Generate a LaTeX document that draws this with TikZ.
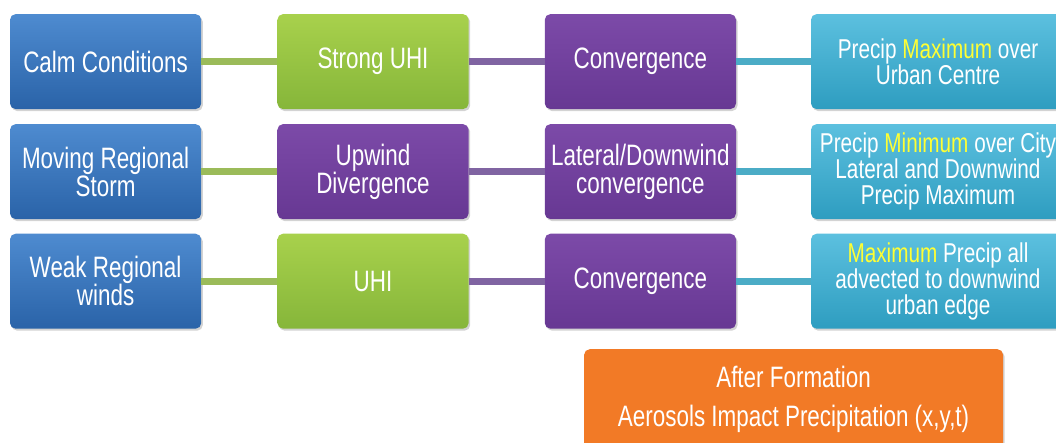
\documentclass[tikz,border=0pt]{standalone}
\usepackage{fontspec}
\setmainfont{Liberation Sans}[FakeStretch=0.76]
\usetikzlibrary{shadows}
\definecolor{bluetop}{HTML}{4E8BD0}
\definecolor{bluebot}{HTML}{2A63A8}
\definecolor{greentop}{HTML}{A8D14C}
\definecolor{greenbot}{HTML}{86B63A}
\definecolor{purpletop}{HTML}{7C4AA8}
\definecolor{purplebot}{HTML}{673893}
\definecolor{tealtop}{HTML}{5CC0DF}
\definecolor{tealbot}{HTML}{2E9DC0}
\definecolor{orangebox}{HTML}{F27A26}
\definecolor{greenlink}{HTML}{9BBB59}
\definecolor{purplelink}{HTML}{8064A2}
\definecolor{teallink}{HTML}{4BACC6}
\definecolor{hlyellow}{HTML}{FFFF33}
\newcommand\hl[1]{\textcolor{hlyellow}{#1}}

\tikzset{
  box/.style={rounded corners=4pt, minimum width=4.78cm, minimum height=2.375cm,
    inner sep=1pt, text=white, align=center, font=\fontsize{21}{20}\selectfont,
    drop shadow={shadow xshift=0.04cm, shadow yshift=-0.05cm, opacity=0.35}},
  bluebox/.style={box, top color=bluetop, bottom color=bluebot},
  greenbox/.style={box, top color=greentop, bottom color=greenbot},
  purplebox/.style={box, top color=purpletop, bottom color=purplebot},
  tealbox/.style={box, top color=tealtop, bottom color=tealbot,
    minimum width=6.35cm, font=\fontsize{19.4}{18.5}\selectfont},
  link/.style={line width=5pt}
}

\begin{document}
\begin{tikzpicture}

\useasboundingbox (0,0) rectangle (26.4,-11.05);
\clip (0,0) rectangle (26.4,-11.05);

% first row
\node[bluebox] (calm) at (2.64,-1.54) {Calm Conditions};
\node[greenbox] (strong) at (9.325,-1.54) {Strong UHI};
\node[purplebox] (conva) at (16.01,-1.54) {Convergence};
\node[tealbox] (precipmax) at (23.45,-1.54) {Precip \hl{Maximum} over\\Urban Centre};

% second row
\node[bluebox] (moving) at (2.64,-4.29) {Moving Regional\\Storm};
\node[purplebox] (upwind) at (9.325,-4.29) {Upwind\\Divergence};
\node[purplebox] (lateral) at (16.01,-4.29) {Lateral/Downwind\\convergence};
\node[tealbox] (precipmin) at (23.45,-4.29) {Precip \hl{Minimum} over City\\Lateral and Downwind\\Precip Maximum};

% third row
\node[bluebox] (weak) at (2.64,-7.03) {Weak Regional\\winds};
\node[greenbox] (uhi) at (9.325,-7.03) {UHI};
\node[purplebox] (convb) at (16.01,-7.03) {Convergence};
\node[tealbox] (advected) at (23.45,-7.03) {\hl{Maximum} Precip all\\advected to downwind\\urban edge};

\node[box, fill=orangebox, minimum width=10.475cm, minimum height=2.5cm] (after) at (19.84,-9.98)
  {After Formation\\[8pt]Aerosols Impact Precipitation (x,y,t)};

\draw[link, greenlink] (calm) -- (strong);
\draw[link, greenlink] (moving) -- (upwind);
\draw[link, greenlink] (weak) -- (uhi);
\draw[link, purplelink] (strong) -- (conva);
\draw[link, purplelink] (upwind) -- (lateral);
\draw[link, purplelink] (uhi) -- (convb);
\draw[link, teallink] (conva) -- (precipmax);
\draw[link, teallink] (lateral) -- (precipmin);
\draw[link, teallink] (convb) -- (advected);

\end{tikzpicture}
\end{document}
